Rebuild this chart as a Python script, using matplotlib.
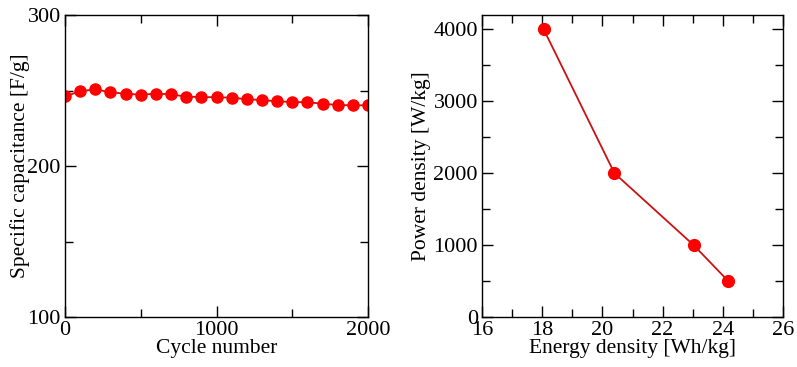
import numpy as np
import matplotlib
matplotlib.use("Agg")
import matplotlib.pyplot as plt
from matplotlib.ticker import MultipleLocator

# cycling data
cycles = [0, 100, 200, 300, 400, 500, 600, 700, 800, 900, 1000,
          1100, 1200, 1300, 1400, 1500, 1600, 1700, 1800, 1900, 2000]
capacitance = [246.1, 249.5, 250.8, 248.8, 247.9, 247.2, 247.9, 247.5, 245.9, 245.7, 245.5,
               245.3, 244.2, 243.7, 242.8, 242.4, 242.2, 241.3, 240.4, 240.2, 240.2]

# ragone data
energy = [18.05, 20.40, 23.03, 24.18]
power = [4000, 2000, 1000, 500]

plt.rcParams['font.family'] = ['Liberation Serif', 'DejaVu Serif']
plt.rcParams['font.size'] = 16

fig = plt.figure(figsize=(7.97, 3.67), dpi=100)
W, H = 797.0, 367.0
ax1 = fig.add_axes([65 / W, 1 - 317 / H, 303 / W, 302 / H])
ax2 = fig.add_axes([482 / W, 1 - 317 / H, 301 / W, 302 / H])


def style(ax):
    ax.tick_params(which='both', direction='in', top=True, right=True, width=1, pad=3,
                   labelsize=16)
    ax.tick_params(which='major', length=8)
    ax.tick_params(which='minor', length=6)
    for s in ax.spines.values():
        s.set_linewidth(1)


ax1.plot(cycles, capacitance, '-', color='#cc1111', lw=1.3,
         marker='o', ms=8, mfc='#ff0000', mec='#ff0000')
ax1.set_xlim(0, 2000)
ax1.set_ylim(100, 300)
ax1.xaxis.set_major_locator(MultipleLocator(1000))
ax1.xaxis.set_minor_locator(MultipleLocator(500))
ax1.yaxis.set_major_locator(MultipleLocator(100))
ax1.yaxis.set_minor_locator(MultipleLocator(50))
ax1.set_xlabel("Cycle number", labelpad=-1, fontsize=15.5)
ax1.set_ylabel("Specific capacitance [F/g]", labelpad=-1.5, fontsize=15.5)
style(ax1)

ax2.plot(energy, power, '-', color='#cc1111', lw=1.3,
         marker='o', ms=8.5, mfc='#ff0000', mec='#ff0000')
ax2.set_xlim(16, 26)
ax2.set_ylim(0, 4200)
ax2.xaxis.set_major_locator(MultipleLocator(2))
ax2.xaxis.set_minor_locator(MultipleLocator(1))
ax2.yaxis.set_major_locator(MultipleLocator(1000))
ax2.yaxis.set_minor_locator(MultipleLocator(500))
ax2.set_xlabel("Energy density [Wh/kg]", labelpad=-1, fontsize=15.5)
ax2.set_ylabel("Power density [W/kg]", labelpad=2, fontsize=15.5)
style(ax2)

plt.savefig("out.png", dpi=100)
